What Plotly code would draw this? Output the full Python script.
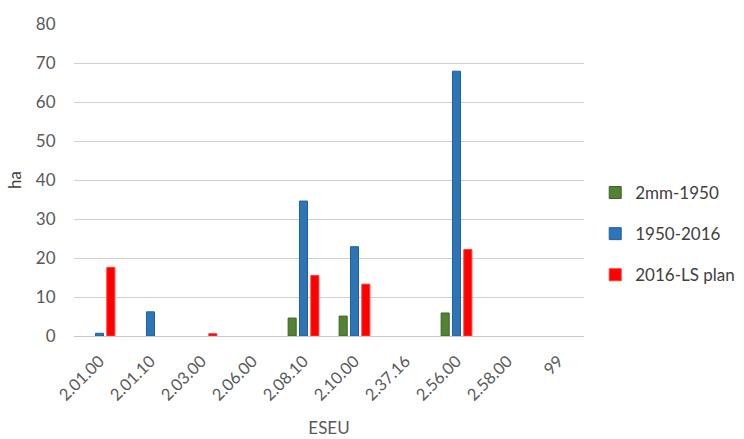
import plotly.graph_objects as go

categories = ["2.01.00", "2.01.10", "2.03.00", "2.06.00", "2.08.10", "2.10.00", "2.37.16", "2.56.00", "2.58.00", "99"]
s_2mm_1950 = [0, 0, 0, 0, 4.6, 5.1, 0, 5.9, 0, 0]
s_1950_2016 = [0.7, 6.2, 0, 0, 34.6, 22.9, 0, 67.9, 0, 0]
s_2016_ls = [17.6, 0, 0.6, 0, 15.5, 13.3, 0, 22.2, 0, 0]
y_ticks = [0, 10, 20, 30, 40, 50, 60, 70, 80]

series = [
    ("2mm-1950", s_2mm_1950, "#548235", "#3D6324"),
    ("1950-2016", s_1950_2016, "#2E75B6", "#1F5FA3"),
    ("2016-LS plan", s_2016_ls, "#FF0000", "#FF3B3B"),
]

fig = go.Figure()
for name, vals, col, lcol in series:
    # zero values are not drawn as bars
    shown = [v if v != 0 else None for v in vals]
    fig.add_trace(go.Bar(
        x=categories, y=shown, name=name, legendgroup=name,
        marker=dict(color=col, line=dict(color=lcol, width=1)),
    ))

txt = "#595959"
fig.update_layout(
    width=744, height=439,
    margin=dict(l=74, r=160, t=24, b=103, autoexpand=False),
    paper_bgcolor="white", plot_bgcolor="white",
    font=dict(family="Lato, 'Open Sans', sans-serif", size=16, color=txt),
    barmode="group", bargap=0.333, bargroupgap=0.29,
    legend=dict(x=1.022, y=0.327, xanchor="left", yanchor="middle",
                traceorder="grouped", tracegroupgap=16,
                font=dict(family="Lato, sans-serif", size=17, color="#404040")),
    xaxis=dict(title=dict(text="ESEU", standoff=18, font=dict(size=17, color=txt)),
               tickangle=-45, showgrid=False, showline=False,
               ticks="outside", ticklen=8, tickcolor="rgba(0,0,0,0)",
               tickfont=dict(size=16.5, color=txt)),
    yaxis=dict(title=dict(text="ha", standoff=9, font=dict(size=17, color="#404040")),
               range=[0, 80], tickvals=y_ticks, showgrid=True, gridcolor="#D0D0D0",
               gridwidth=1, zeroline=True, zerolinecolor="#C8C8C8", zerolinewidth=1,
               ticks="outside", ticklen=14, tickcolor="rgba(0,0,0,0)",
               tickfont=dict(size=17, color=txt)),
)

fig.write_html("out.html")
